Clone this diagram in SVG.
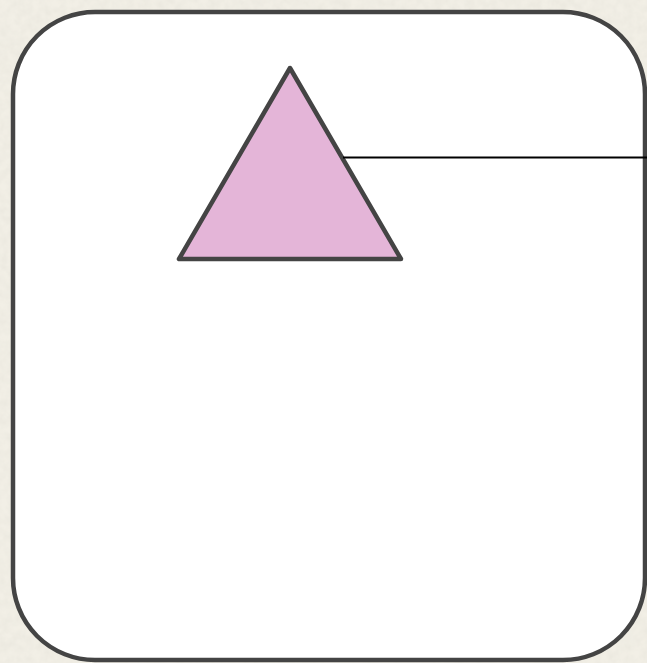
<svg xmlns="http://www.w3.org/2000/svg" width="647" height="663" viewBox="0 0 647 663">
<defs>
<filter id="paper" x="0" y="0" width="100%" height="100%">
<feTurbulence type="fractalNoise" baseFrequency="0.12" numOctaves="3" seed="4" result="n"/>
<feColorMatrix in="n" type="matrix" values="0 0 0 0 0.82  0 0 0 0 0.80  0 0 0 0 0.73  0 0 0 1.2 -0.3" result="c"/>
<feComposite in="c" in2="SourceGraphic" operator="in"/>
</filter>
<style>
.frame{fill:#ffffff;stroke:#444444;stroke-width:4.5}
.tri{fill:#E4B5D8;stroke:#444444;stroke-width:4.5;stroke-linejoin:round}
.conn{stroke:#000000;stroke-width:2;fill:none}
</style>
</defs>
<rect width="647" height="663" fill="#F2EFE6"/>
<rect width="647" height="663" fill="#F2EFE6" filter="url(#paper)"/>
<g id="frame">
<rect class="frame" x="13" y="12" width="632" height="648" rx="82" ry="82"/>
</g>
<g id="triangle">
<polygon class="tri" points="290,68 179,259 401,259"/>
</g>
<g id="connectors">
<line class="conn" x1="343" y1="157.5" x2="647" y2="157.5"/>
</g>
</svg>
